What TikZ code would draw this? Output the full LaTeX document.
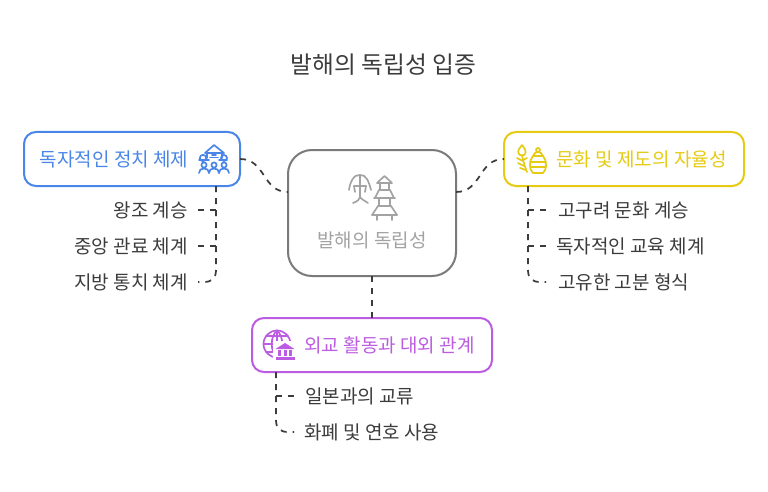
\documentclass[tikz,border=0pt]{standalone}
\usepackage{fontspec}
\setmainfont{Noto Sans CJK KR}
\definecolor{cblue}{HTML}{4A86E8}
\definecolor{cyel}{HTML}{E6CB12}
\definecolor{cpur}{HTML}{BC5CE2}
\definecolor{cgry}{HTML}{7A7A7A}
\definecolor{cicon}{HTML}{A3A3A3}
\definecolor{cdark}{HTML}{3C3C3C}
\tikzset{
 box/.style={draw=#1,line width=1.5pt,fill=white,inner sep=0pt,outer sep=0pt,rounded corners=9pt,anchor=north west},
 lab/.style={text=#1,inner sep=0pt,font=\fontsize{14.25}{16}\selectfont},
 sub/.style={text=cdark,inner sep=0pt,font=\fontsize{14.25}{16}\selectfont},
 conn/.style={draw=cdark,line width=1.3pt,dash pattern=on 4.5pt off 4.5pt},
 ic/.style={draw=#1,line width=1.25pt,fill=none,line cap=round,line join=round},
}
\begin{document}
\begin{tikzpicture}[x=0.75pt,y=-0.75pt]
\useasboundingbox (0,0) rectangle (768,492);
\node[inner sep=0pt,text=cdark,font=\fontsize{17.8}{22}\selectfont] (title) at (383.5,65) {발해의 독립성 입증};
% boxes
\node[box=cblue,minimum width=162pt,minimum height=40.5pt] (blue) at (24,132) {};
\node[box=cgry,minimum width=126pt,minimum height=94.5pt,rounded corners=18pt] (center) at (288,150) {};
\node[box=cyel,minimum width=180pt,minimum height=40.5pt] (yel) at (504,132) {};
\node[box=cpur,minimum width=180pt,minimum height=40.5pt] (pur) at (252,318) {};
% labels
\node[lab=cblue] (tb) at (114,159) {독자적인 정치 체제};
\node[lab=cicon] (tc) at (372,240) {발해의 독립성};
\node[lab=cyel] (ty) at (641.5,159) {문화 및 제도의 자율성};
\node[lab=cpur] (tp) at (389.5,345) {외교 활동과 대외 관계};
\node[sub,anchor=east] (b1) at (188,210) {왕조 계승};
\node[sub,anchor=east] (b2) at (188,246) {중앙 관료 체계};
\node[sub,anchor=east] (b3) at (188,282) {지방 통치 체계};
\node[sub,anchor=west] (y1) at (558,210) {고구려 문화 계승};
\node[sub,anchor=west] (y2) at (556,246) {독자적인 교육 체계};
\node[sub,anchor=west] (y3) at (558,282) {고유한 고분 형식};
\node[sub,anchor=west] (p1) at (305,396) {일본과의 교류};
\node[sub,anchor=west] (p2) at (304,432) {화폐 및 연호 사용};
% connector helpers
\coordinate (bs) at (216,186);
\coordinate (be1) at (198,210);
\coordinate (be2) at (198,246);
\coordinate (be3) at (198,282);
\coordinate (ys) at (528,186);
\coordinate (ye1) at (546,210);
\coordinate (ye2) at (546,246);
\coordinate (ye3) at (546,282);
\coordinate (ps) at (276,372);
\coordinate (pe1) at (294,396);
\coordinate (pe2) at (294,432);
\coordinate (cw) at (288,192);
\coordinate (ce) at (456,192);
% connectors
\draw[conn] (blue.east) .. controls (266,159) and (262,192) .. (cw);
\draw[conn] (ce) .. controls (482,192) and (478,159) .. (yel.west);
\draw[conn] (center.south) -- (pur.north -| center.south);
\draw[conn] (bs) -- (216,210) -- (be1);
\draw[conn] (bs) -- (216,246) -- (be2);
\draw[conn] (bs) -- (216,270) .. controls (216,278) and (212,282) .. (204,282) -- (be3);
\draw[conn] (ys) -- (528,210) -- (ye1);
\draw[conn] (ys) -- (528,246) -- (ye2);
\draw[conn] (ys) -- (528,270) .. controls (528,278) and (532,282) .. (540,282) -- (ye3);
\draw[conn] (ps) -- (276,396) -- (pe1);
\draw[conn] (ps) -- (276,420) .. controls (276,428) and (280,432) .. (288,432) -- (pe2);
% blue icon
\begin{scope}[ic=cblue]
\draw (205,153) -- (214,145) -- (224,153) -- cycle;
\draw (207,153) -- (207,158) (222,153) -- (222,158);
\draw (210,157.5) -- (218,157.5) (212,155) -- (216,155);
\draw (199,160) -- (209,160) (219,160) -- (227,160);
\draw (203,158) circle (3.2);
\draw (224,158) circle (3);
\foreach \x in {204,214,224}{
 \draw (\x,165) circle (2.6);
 \draw (\x-5,173) .. controls (\x-5,170) and (\x-3,168.5) .. (\x,168.5) .. controls (\x+3,168.5) and (\x+5,170) .. (\x+5,173);
}
\end{scope}
% center icon
\begin{scope}[ic=cicon]
\draw (349,190) .. controls (350,182) and (354,174) .. (360,175) .. controls (366,174) and (369,182) .. (371,190);
\draw (360,175) -- (360,197);
\draw (354,186) -- (366,186);
\draw (353,203) .. controls (358,201) and (360,199) .. (360,197) .. controls (361,199) and (365,201) .. (368,203);
\draw (354,186) -- (355,192) (366,186) -- (365,192);
\draw (377,183) -- (384.5,176) -- (392,183) -- cycle;
\draw (380,183) -- (380,190) (389,183) -- (389,190);
\draw (379,190) -- (390,190);
\draw (375,198) -- (379,190) (394,198) -- (390,190);
\draw (374,198) -- (395,198);
\draw (379,198) -- (379,206) (390,198) -- (390,206);
\draw (378,206) -- (391,206);
\draw (372,215) -- (378,206) (397,215) -- (391,206);
\draw (372,215) -- (397,215);
\draw (377,215) -- (377,220) (392,215) -- (392,220);
\end{scope}
% yellow icon
\begin{scope}[ic=cyel]
\draw (522,145) .. controls (519,149) and (517,151) .. (519,154) .. controls (520,156) and (524,156) .. (525,154) .. controls (527,151) and (524,148) .. (522,145);
\draw (522,155) .. controls (523,161) and (525,167) .. (527,172);
\draw (517,158) -- (523,161) (518,163) -- (524,166) (520,168) -- (526,170);
\draw (527,158) -- (523,160);
\draw (538,150) circle (2);
\draw (533,156) .. controls (534,153) and (536,152) .. (538,152) .. controls (540,152) and (542,153) .. (543,156) -- cycle;
\draw (533,156) .. controls (529,160) and (529,170) .. (533,173) -- (543,173) .. controls (547,170) and (547,160) .. (543,156);
\draw (530,162) -- (546,162) (530,167) -- (546,167);
\end{scope}
% purple icon
\begin{scope}[ic=cpur]
\draw (277,344) circle (13.5);
\draw (264,344) -- (290,344);
\draw (266,336) -- (288,336);
\draw (266,352) -- (288,352);
\draw (277,330.5) .. controls (270,336) and (270,352) .. (277,357.5);
\draw (277,330.5) .. controls (284,336) and (284,352) .. (277,357.5);
\draw (277,330.5) -- (277,357.5);
\fill[white,draw=none] (273,341) rectangle (298,363);
\fill[cpur,draw=none] (275.5,349) -- (285,343) -- (294.5,349) -- cycle;
\fill[cpur,draw=none] (275.5,356.5) rectangle (294.5,360);
\fill[cpur,draw=none] (278,350) rectangle (281,355.5);
\fill[cpur,draw=none] (283.5,350) rectangle (286.5,355.5);
\fill[cpur,draw=none] (289,350) rectangle (292,355.5);
\end{scope}
\end{tikzpicture}
\end{document}
